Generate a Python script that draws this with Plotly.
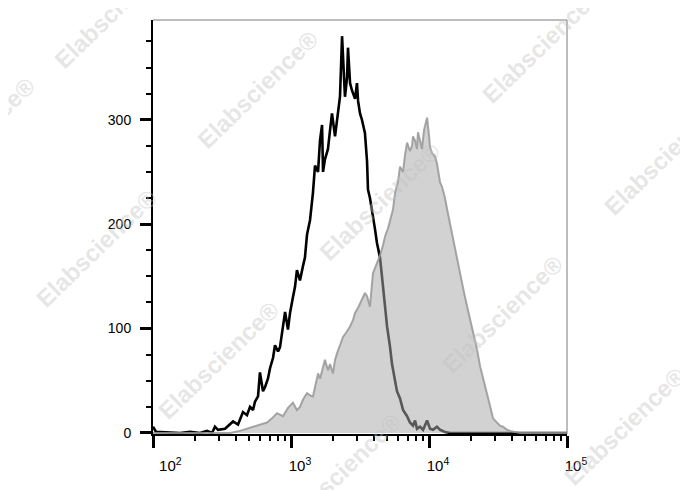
import numpy as np
import plotly.graph_objects as go

# ---- data (log10 fluorescence intensity, event counts) ----
black_log10 = [
    2.000, 2.022, 2.196, 2.268, 2.341, 2.391, 2.428, 2.449, 2.471, 2.522,
    2.580, 2.616, 2.652, 2.681, 2.703, 2.725, 2.739, 2.761, 2.775, 2.797,
    2.812, 2.833, 2.848, 2.870, 2.884, 2.906, 2.920, 2.942, 2.957, 2.978,
    2.993, 3.014, 3.029, 3.043, 3.065, 3.087, 3.101, 3.116, 3.138, 3.159,
    3.174, 3.196, 3.210, 3.225, 3.232, 3.246, 3.268, 3.283, 3.297, 3.319,
    3.333, 3.341, 3.355, 3.370, 3.384, 3.391, 3.406, 3.413, 3.428, 3.442,
    3.464, 3.478, 3.486, 3.500, 3.514, 3.536, 3.551, 3.558, 3.572, 3.587,
    3.609, 3.623, 3.645, 3.667, 3.681, 3.696, 3.717, 3.732, 3.754, 3.768,
    3.790, 3.812, 3.841, 3.862, 3.884, 3.899, 3.913, 3.935, 3.957, 3.986,
    4.007, 4.029, 4.058, 4.080, 4.116, 4.152, 4.370, 4.659, 5.000,
]
black_counts = [
    6, 1, 0, 1, 0, 2, 0, 6, 3, 4,
    11, 8, 20, 17, 25, 22, 30, 35, 58, 40,
    44, 52, 62, 72, 84, 78, 82, 100, 116, 99,
    115, 130, 140, 156, 146, 160, 168, 190, 204, 230,
    256, 250, 280, 295, 250, 262, 272, 290, 306, 284,
    300, 312, 322, 380, 330, 322, 340, 369, 335, 328,
    320, 335, 318, 306, 300, 287, 260, 233, 225, 214,
    195, 182, 168, 140, 118, 102, 83, 66, 50, 40,
    33, 22, 16, 10, 7, 12, 4, 6, 3, 12,
    4, 3, 6, 3, 1, 0, 0, 0, 0,
]

gray_log10 = [
    2.000, 2.558, 2.630, 2.703, 2.775, 2.826, 2.862, 2.899, 2.942, 2.978,
    3.014, 3.043, 3.065, 3.087, 3.116, 3.138, 3.159, 3.181, 3.196, 3.210,
    3.232, 3.246, 3.268, 3.283, 3.304, 3.319, 3.333, 3.355, 3.377, 3.399,
    3.428, 3.449, 3.464, 3.486, 3.514, 3.536, 3.551, 3.572, 3.594, 3.623,
    3.645, 3.667, 3.681, 3.703, 3.717, 3.739, 3.754, 3.775, 3.790, 3.812,
    3.826, 3.841, 3.862, 3.877, 3.884, 3.899, 3.913, 3.920, 3.935, 3.949,
    3.964, 3.986, 4.000, 4.007, 4.022, 4.043, 4.058, 4.080, 4.094, 4.116,
    4.130, 4.152, 4.167, 4.188, 4.203, 4.225, 4.239, 4.261, 4.275, 4.297,
    4.319, 4.348, 4.370, 4.391, 4.420, 4.442, 4.464, 4.493, 4.514, 4.536,
    4.565, 4.587, 4.623, 4.659, 5.000,
]
gray_counts = [
    0, 0, 2, 5, 8, 10, 14, 19, 16, 24,
    29, 22, 25, 32, 38, 36, 35, 48, 57, 52,
    62, 70, 60, 66, 57, 70, 76, 85, 92, 96,
    102, 108, 115, 120, 128, 134, 131, 121, 153, 162,
    170, 180, 188, 196, 204, 214, 230, 240, 255, 250,
    266, 278, 270, 275, 284, 280, 272, 288, 280, 272,
    290, 302, 285, 274, 268, 265, 258, 240, 236, 225,
    215, 200, 190, 175, 166, 152, 144, 130, 122, 108,
    96, 80, 64, 52, 38, 26, 14, 10, 7, 6,
    3, 2, 1, 0, 0,
]

x_major = [100, 1000, 10000, 100000]
x_major_text = ["\u00a0\u00a0\u00a0\u00a010<sup>2</sup>", "10<sup>3</sup>", "10<sup>4</sup>", "10<sup>5</sup>"]
x_minor = [m * d for d in (100, 1000, 10000) for m in range(2, 10)]
y_major = [0, 100, 200, 300]
y_minor = [25, 50, 75, 125, 150, 175, 225, 250, 275, 325, 350, 375]

black_x = 10 ** np.array(black_log10)
gray_x = 10 ** np.array(gray_log10)

fig = go.Figure()
fig.add_trace(go.Scatter(
    x=black_x, y=black_counts, mode="lines",
    line=dict(color="black", width=2.6), showlegend=False, hoverinfo="skip",
))
fig.add_trace(go.Scatter(
    x=gray_x, y=gray_counts, mode="lines", fill="tozeroy",
    fillcolor="rgba(168,168,168,0.52)",
    line=dict(color="rgba(150,150,150,0.85)", width=2), showlegend=False, hoverinfo="skip",
))

font_family = "Liberation Sans, Arial, sans-serif"

fig.update_xaxes(
    type="log", range=[2, 5.0],
    tickmode="array", tickvals=x_major, ticktext=x_major_text,
    ticks="outside", ticklen=12, tickwidth=3, tickcolor="black",
    showline=True, linecolor="black", linewidth=2,
    showgrid=False, zeroline=False,
    tickfont=dict(family=font_family, size=15, color="black"),
    ticklabelshift=9, ticklabelstandoff=5,
    minor=dict(tickmode="array", tickvals=x_minor, ticks="outside",
               ticklen=5, tickwidth=2, tickcolor="black", showgrid=False),
)
fig.update_yaxes(
    range=[-1, 395.5],
    tickmode="array", tickvals=y_major,
    ticks="outside", ticklen=11, tickwidth=3, tickcolor="black",
    showline=True, linecolor="black", linewidth=2,
    showgrid=False, zeroline=False,
    tickfont=dict(family=font_family, size=14, color="black"),
    ticklabelstandoff=6,
    minor=dict(tickmode="array", tickvals=y_minor, ticks="outside",
               ticklen=5, tickwidth=2, tickcolor="black", showgrid=False),
)

# top and right frame lines
shapes = [
    dict(type="line", xref="paper", yref="paper", x0=0, y0=1, x1=1, y1=1,
         line=dict(color="#7a7a7a", width=1)),
    dict(type="line", xref="paper", yref="paper", x0=1, y0=0, x1=1, y1=1,
         line=dict(color="#7a7a7a", width=1)),
]

# watermark positions (screen pixels), converted to paper coords
L, T, W, H = 153, 20, 414, 414
wm_px = [(115, 10), (258, 90), (542, 44), (380, 202), (664, 156), (-26, 136),
         (96, 248), (502, 314), (218, 360), (624, 426), (340, 472)]
annotations = []
for px, py in wm_px:
    annotations.append(dict(
        text="Elabscience\u00ae", xref="paper", yref="paper",
        x=(px - L) / W, y=(T + H - py) / H, showarrow=False,
        textangle=-44, xanchor="center", yanchor="middle",
        font=dict(family=font_family, size=24, color="rgba(195,195,195,0.42)", weight="bold"),
    ))

fig.update_layout(
    width=688, height=490,
    margin=dict(l=145, r=129, t=12, b=64),
    paper_bgcolor="white", plot_bgcolor="white",
    shapes=shapes, annotations=annotations,
    showlegend=False,
)

fig.write_html("out.html")
